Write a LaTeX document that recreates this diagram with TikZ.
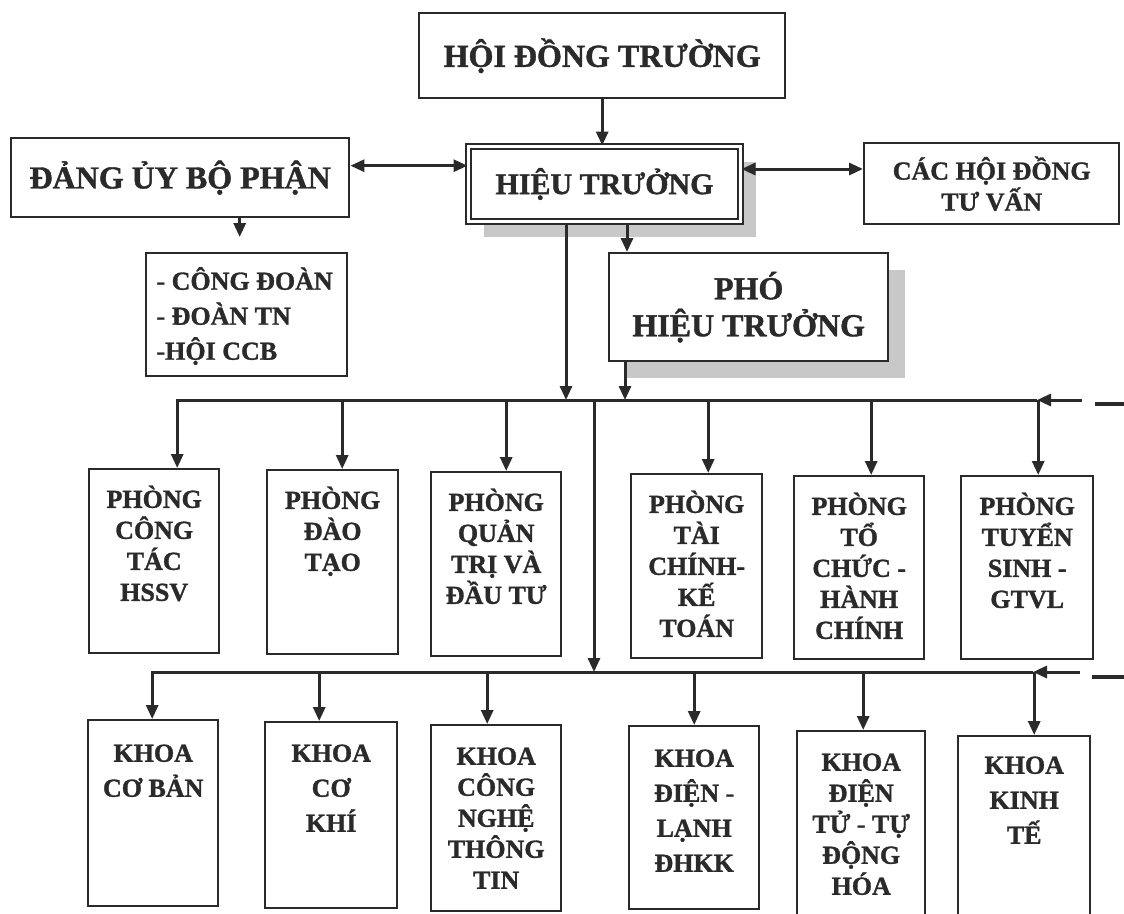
\documentclass[tikz,border=0pt]{standalone}
\usepackage{fontspec}
\setmainfont[BoldFeatures={FakeBold=1.2}]{Liberation Serif}
\usetikzlibrary{arrows.meta, positioning, shadows}
\definecolor{ink}{HTML}{2A2A2A}
\definecolor{shadegray}{HTML}{C8C8C8}

\begin{document}
\begin{tikzpicture}[
  x=1pt, y=-1pt,
  box/.style={draw=ink, line width=2.4pt, fill=white, inner sep=0pt, anchor=north west},
  big/.style={font=\fontsize{32}{37}\selectfont\bfseries, text=ink, align=center},
  mid/.style={font=\fontsize{26}{31}\selectfont\bfseries, text=ink, align=center},
  loose/.style={mid, font=\fontsize{26}{35}\selectfont\bfseries},
  unitbox/.style={box, minimum width=130pt, minimum height=184pt},
  shade/.style={drop shadow={shadow xshift=#1, shadow yshift=-#1, fill=shadegray, opacity=1}},
  arr/.style={draw=ink, line width=3pt, -{Triangle[length=14pt,width=12pt]}},
  darr/.style={draw=ink, line width=3pt, {Triangle[length=14pt,width=12pt]}-{Triangle[length=14pt,width=12pt]}},
  bus/.style={draw=ink, line width=3pt},
]
  \clip (0,0) rectangle (1124,913);

  % Top level
  \node[box, minimum width=366pt, minimum height=85pt, big] (hoidong) at (418,12) {HỘI ĐỒNG TRƯỜNG};
  \node[box, minimum width=272pt, minimum height=75pt, line width=2pt, double=white, double distance=2.5pt,
        shade=15pt, big, font=\fontsize{30}{35}\selectfont\bfseries] (hieu) at (467.5,145.5) {HIỆU TRƯỞNG};
  \node[box, minimum width=338pt, minimum height=79pt, big] (dang) at (10,137) {ĐẢNG ỦY BỘ PHẬN};
  \node[box, minimum width=255pt, minimum height=81pt, mid] (cac) at (863,142) {CÁC HỘI ĐỒNG\\TƯ VẤN};
  \node[box, minimum width=279pt, minimum height=108pt, shade=17pt, big] (pho) at (608,252) {PHÓ\\HIỆU TRƯỞNG};
  \node[box, minimum width=201pt, minimum height=123pt] (doan) at (145,252) {};
  \node[mid, font=\fontsize{26}{35}\selectfont\bfseries, align=left, anchor=west] (doant) at (153,316)
    {- CÔNG ĐOÀN\\- ĐOÀN TN\\-HỘI CCB};

  \draw[arr] (hoidong.south) -- (hoidong.south |- hieu.north);
  \draw[darr] ([yshift=12pt]dang.east) -- ([yshift=12pt]dang.east -| hieu.west);
  \draw[darr] ([yshift=15pt]hieu.east) -- ([yshift=15pt]hieu.east -| cac.west);
  \draw[arr, shorten >=15pt] ([xshift=-7pt]doan.north |- dang.south) -- ([xshift=-7pt]doan.north);
  \draw[arr] ([xshift=19pt]pho.north west |- hieu.south) -- ([xshift=19pt]pho.north west);

  % Phong
  \node[unitbox] (p1) at (88,468) {};
  \node[unitbox, minimum width=131pt] (p2) at (266,469) {};
  \node[unitbox] (p3) at (430,471) {};
  \node[unitbox, minimum width=131pt] (p4) at (630,473) {};
  \node[unitbox, minimum height=183pt] (p5) at (793,475) {};
  \node[unitbox, minimum width=132pt, minimum height=183pt] (p6) at (960,475) {};
  \node[mid, below=14pt of p1.north] (p1t) {PHÒNG\\CÔNG\\TÁC\\HSSV};
  \node[mid, below=14pt of p2.north] (p2t) {PHÒNG\\ĐÀO\\TẠO};
  \node[mid, below=14pt of p3.north] (p3t) {PHÒNG\\QUẢN\\TRỊ VÀ\\ĐẦU TƯ};
  \node[mid, below=14pt of p4.north] (p4t) {PHÒNG\\TÀI\\CHÍNH-\\KẾ\\TOÁN};
  \node[mid, below=14pt of p5.north] (p5t) {PHÒNG\\TỔ\\CHỨC -\\HÀNH\\CHÍNH};
  \node[mid, below=14pt of p6.north] (p6t) {PHÒNG\\TUYỂN\\SINH -\\GTVL};

  % Khoa
  \node[unitbox, minimum height=186pt] (k1) at (87,719) {};
  \node[unitbox, minimum width=132pt, minimum height=186pt] (k2) at (264,721) {};
  \node[unitbox, minimum height=186pt] (k3) at (430,724) {};
  \node[unitbox, minimum height=183pt] (k4) at (628,725) {};
  \node[unitbox, minimum width=128pt, minimum height=190pt] (k5) at (796,730) {};
  \node[unitbox, minimum width=132pt, minimum height=185pt] (k6) at (957,735) {};
  \node[loose, below=22pt of k1.north] (k1t) {KHOA\\CƠ BẢN};
  \node[loose, below=20pt of k2.north] (k2t) {KHOA\\CƠ\\KHÍ};
  \node[mid, below=20pt of k3.north] (k3t) {KHOA\\CÔNG\\NGHỆ\\THÔNG\\TIN};
  \node[loose, below=21pt of k4.north] (k4t) {KHOA\\ĐIỆN -\\LẠNH\\ĐHKK};
  \node[mid, below=20pt of k5.north] (k5t) {KHOA\\ĐIỆN\\TỬ -  TỰ\\ĐỘNG\\HÓA};
  \node[loose, below=18pt of k6.north] (k6t) {KHOA\\KINH\\TẾ};

  % Bus lines
  \coordinate (b1w) at (176,400);
  \coordinate (b1e) at (1037,400);
  \coordinate (b2w) at (151,672);
  \coordinate (b2e) at (1033,672);
  \coordinate (j1) at (594,400);
  \coordinate (r1) at (1082,400);
  \coordinate (r2) at (1080,672);

  \draw[bus] (b1w) -- (b1e);
  \draw[bus] (b2w) -- (b2e);
  \draw[arr] ([xshift=-38.5pt]hieu.south) -- ([xshift=-38.5pt]hieu.south |- b1w);
  \draw[arr] ([xshift=17pt]pho.south west) -- ([xshift=17pt]pho.south west |- b1w);
  \draw[arr] (j1) -- (j1 |- b2w);
  \draw[arr] (r1) -- (b1e);
  \draw[arr] (r2) -- (b2e);
  \draw[ink, line width=4.5pt] ([xshift=13pt,yshift=-4pt]r1) -- ++(40pt,0);
  \draw[ink, line width=4.5pt] ([xshift=12pt,yshift=-5pt]r2) -- ++(40pt,0);

  \draw[arr] ([xshift=23pt]p1.north |- b1w) -- ([xshift=23pt]p1.north);
  \draw[arr] ([xshift=9.5pt]p2.north |- b1w) -- ([xshift=9.5pt]p2.north);
  \draw[arr] ([xshift=10pt]p3.north |- b1w) -- ([xshift=10pt]p3.north);
  \draw[arr] ([xshift=11.5pt]p4.north |- b1w) -- ([xshift=11.5pt]p4.north);
  \draw[arr] ([xshift=12pt]p5.north |- b1w) -- ([xshift=12pt]p5.north);
  \draw[arr] ([xshift=11pt]p6.north |- b1w) -- ([xshift=11pt]p6.north);

  \draw[arr] ([xshift=-1pt]k1.north |- b2w) -- ([xshift=-1pt]k1.north);
  \draw[arr] ([xshift=-12pt]k2.north |- b2w) -- ([xshift=-12pt]k2.north);
  \draw[arr] ([xshift=-9pt]k3.north |- b2w) -- ([xshift=-9pt]k3.north);
  \draw[arr] (k4.north |- b2w) -- (k4.north);
  \draw[arr] ([xshift=2pt]k5.north |- b2w) -- ([xshift=2pt]k5.north);
  \draw[arr] ([xshift=10pt]k6.north |- b2w) -- ([xshift=10pt]k6.north);

\end{tikzpicture}
\end{document}
